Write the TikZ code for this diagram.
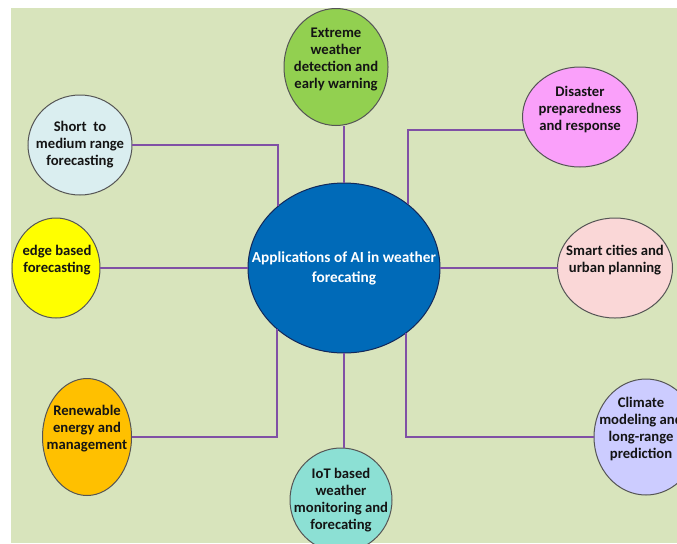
\documentclass[tikz,border=0pt]{standalone}
\usepackage{fontspec}
\setmainfont{Carlito}
\usepackage{tikz}
\usetikzlibrary{shapes.geometric}
\usetikzlibrary{calc}

\tikzset{
  bubble/.style={ellipse, draw={rgb, 255:red, 85; green, 85; blue, 85 }, line width=0.75, inner sep=0pt, outer sep=0pt},
  link/.style={draw={rgb, 255:red, 128; green, 80; blue, 165 }, line width=1.5},
  txt/.style={align=center, inner sep=0pt, font=\fontsize{11}{12.75}\selectfont\bfseries, text={rgb, 255:red, 20; green, 20; blue, 20 }},
}

\begin{document}
\begin{tikzpicture}[x=0.75pt,y=0.75pt,yscale=-1,xscale=1]
\useasboundingbox (0,0) rectangle (677,543);
\clip (0,0) rectangle (677,543);

%Background
\fill[color={rgb, 255:red, 216; green, 228; blue, 188 }] (11,8) rectangle (677,543);

%Shape: Ellipse (centre)
\node[bubble, fill={rgb, 255:red, 0; green, 106; blue, 184 }, draw={rgb, 255:red, 18; green, 40; blue, 90 }, minimum width=144pt, minimum height=127.5pt] (ai) at (344,268) {};
%Shape: Ellipse
\node[bubble, fill={rgb, 255:red, 146; green, 208; blue, 80 }, minimum width=78pt, minimum height=87.75pt] (extreme) at (336,67) {};
%Shape: Ellipse
\node[bubble, fill={rgb, 255:red, 218; green, 238; blue, 240 }, minimum width=78pt, minimum height=75pt] (short) at (80,145) {};
%Shape: Ellipse
\node[bubble, fill={rgb, 255:red, 255; green, 255; blue, 0 }, minimum width=66pt, minimum height=75pt] (edge) at (56,268) {};
%Shape: Ellipse
\node[bubble, fill={rgb, 255:red, 250; green, 160; blue, 250 }, minimum width=86.25pt, minimum height=75pt] (disaster) at (580,117) {};
%Shape: Ellipse
\node[bubble, fill={rgb, 255:red, 250; green, 215; blue, 215 }, minimum width=86.25pt, minimum height=75pt] (smart) at (615,268) {};
%Shape: Ellipse
\node[bubble, fill={rgb, 255:red, 255; green, 192; blue, 0 }, minimum width=66.75pt, minimum height=87.75pt] (renew) at (87,437) {};
%Shape: Ellipse
\node[bubble, fill={rgb, 255:red, 140; green, 224; blue, 212 }, minimum width=76.5pt, minimum height=78pt] (iot) at (341,500) {};
%Shape: Ellipse
\node[bubble, fill={rgb, 255:red, 204; green, 204; blue, 255 }, minimum width=78pt, minimum height=87pt] (climate) at (646,437) {};

%Straight Lines
\draw[link] (ai.north |- extreme.south) -- (ai.north) ;
\draw[link] (short.east) -| (ai.137) ;
\draw[link] (edge.east) -- (ai.west) ;
\draw[link] (disaster.193) -| (ai.45.5) ;
\draw[link] (smart.west) -- (ai.east) ;
\draw[link] (renew.east) -| (ai.222) ;
\draw[link] (climate.west) -| (ai.314.5) ;
\draw[link] (ai.south) -- (iot.north -| ai.south) ;

% Text Node
\node[txt, text=white, font=\fontsize{11.5}{15}\selectfont\bfseries] (aitxt) at (344,268) {Applications of AI in weather\\forecating};
% Text Node
\node[txt] (extremetxt) at (336,59) {Extreme\\weather\\detection and\\early warning};
% Text Node
\node[txt] (shorttxt) at (80,145) {Short\ \ to\\medium range\\forecasting};
% Text Node
\node[txt] (edgetxt) at (57,260) {edge based\\forecasting};
% Text Node
\node[txt] (disastertxt) at (580,110) {Disaster\\preparedness\\and response};
% Text Node
\node[txt] (smarttxt) at (615,260) {Smart cities and\\urban planning};
% Text Node
\node[txt] (renewtxt) at (87,429) {Renewable\\energy and\\management};
% Text Node
\node[txt] (iottxt) at (341,500) {IoT based\\weather\\monitoring and\\forecating};
% Text Node
\node[txt] (climatetxt) at (641,429) {Climate\\modeling and\\long-range\\prediction};

\end{tikzpicture}
\end{document}
